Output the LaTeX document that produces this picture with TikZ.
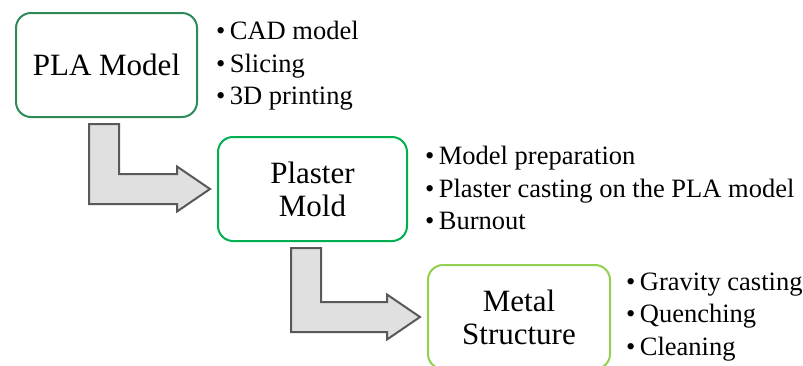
\documentclass[tikz,border=0pt]{standalone}
\usepackage{fontspec}
\setmainfont{LiberationSerif}[Extension=.ttf, UprightFont=*-Regular, BoldFont=*-Bold]
\usetikzlibrary{calc}
\definecolor{plagreen}{RGB}{46,139,87}
\definecolor{moldgreen}{RGB}{0,176,80}
\definecolor{metalgreen}{RGB}{146,208,80}
\definecolor{arrowfill}{RGB}{224,224,224}
\definecolor{arrowdraw}{RGB}{89,89,89}
\tikzstyle{stage} = [rectangle, rounded corners=15pt, minimum height=104pt, text centered, align=center, line width=2pt, font=\fontsize{31}{33}\selectfont]
\tikzstyle{steps} = [anchor=west, inner sep=0pt, align=left, font=\fontsize{26.5}{32.5}\selectfont]
\tikzstyle{elbow} = [fill=arrowfill, draw=arrowdraw, line width=2pt, line join=miter]
\newcommand{\elbowarrow}[2]{%
\draw [elbow] let \p1 = ($(#1.south west)+(89pt,-6pt)$), \p2 = ($(#2.west)+(-7pt,0pt)$) in
  (\x1-15pt,\y1) -- (\x1+15pt,\y1) -- (\x1+15pt,\y2+15pt) -- (\x2-33pt,\y2+15pt)
  -- (\x2-33pt,\y2+22.5pt) -- (\x2,\y2) -- (\x2-33pt,\y2-22.5pt) -- (\x2-33pt,\y2-15pt)
  -- (\x1-15pt,\y2-15pt) -- cycle;}

\begin{document}
\begin{tikzpicture}[x=1pt, y=-1pt]
\useasboundingbox (0,0) rectangle (803,365);
\node (pla) [stage, draw=plagreen, minimum width=181pt] at (106.5,65) {PLA Model};
\node (plaster) [stage, draw=moldgreen, minimum width=189pt] at (312.5,189) {Plaster\\Mold};
\node (metal) [stage, draw=metalgreen, minimum width=182pt] at (519,317) {Metal\\Structure};
\node (plasteps) [steps] at (216,66) {\textbullet\,CAD model\\\textbullet\,Slicing\\\textbullet\,3D printing};
\node (moldsteps) [steps] at (425,188) {\textbullet\,Model preparation\\\textbullet\,Plaster casting on the PLA model\\\textbullet\,Burnout};
\node (metalsteps) [steps] at (626,317) {\textbullet\,Gravity casting\\\textbullet\,Quenching\\\textbullet\,Cleaning};
\elbowarrow{pla}{plaster}
\elbowarrow{plaster}{metal}
\end{tikzpicture}
\end{document}
